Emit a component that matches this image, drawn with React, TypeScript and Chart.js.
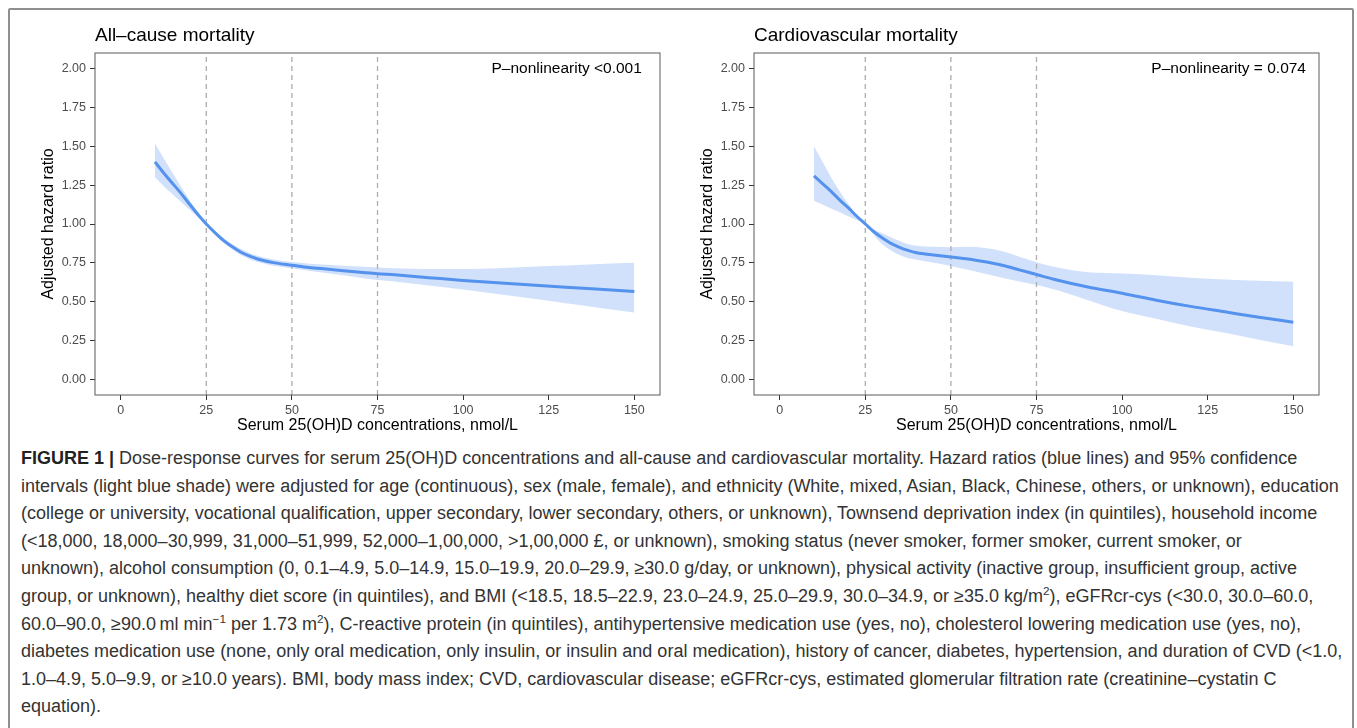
import React, { useEffect, useRef } from "react";
import { Chart, registerables } from "chart.js";

Chart.register(...registerables);

// ---------- data ----------
const xValues = [10, 12.5, 15, 17.5, 20, 22.5, 25, 27.5, 30, 32.5, 35, 37.5, 40, 45, 50, 55, 60, 65, 70, 75, 80, 90, 100, 110, 120, 130, 140, 150];

const allCauseHR = [1.40, 1.33, 1.265, 1.20, 1.13, 1.063, 1.00, 0.945, 0.895, 0.855, 0.82, 0.795, 0.775, 0.75, 0.735, 0.72, 0.71, 0.70, 0.69, 0.68, 0.673, 0.655, 0.637, 0.622, 0.607, 0.593, 0.58, 0.566];
const allCauseUpper = [1.52, 1.425, 1.335, 1.245, 1.16, 1.077, 1.00, 0.955, 0.91, 0.872, 0.84, 0.815, 0.795, 0.77, 0.755, 0.745, 0.738, 0.732, 0.726, 0.72, 0.715, 0.71, 0.71, 0.715, 0.725, 0.733, 0.742, 0.75];
const allCauseLower = [1.30, 1.245, 1.195, 1.145, 1.095, 1.045, 1.00, 0.935, 0.88, 0.838, 0.80, 0.775, 0.755, 0.73, 0.715, 0.70, 0.685, 0.67, 0.655, 0.64, 0.63, 0.605, 0.578, 0.55, 0.52, 0.49, 0.46, 0.43];

const cvdHR = [1.31, 1.26, 1.21, 1.155, 1.105, 1.05, 1.00, 0.95, 0.91, 0.875, 0.85, 0.83, 0.815, 0.80, 0.787, 0.775, 0.757, 0.735, 0.705, 0.675, 0.645, 0.595, 0.555, 0.51, 0.47, 0.435, 0.40, 0.368];
const cvdUpper = [1.50, 1.40, 1.30, 1.21, 1.13, 1.06, 1.00, 0.965, 0.94, 0.915, 0.89, 0.87, 0.86, 0.853, 0.85, 0.853, 0.845, 0.825, 0.79, 0.754, 0.725, 0.69, 0.682, 0.67, 0.655, 0.643, 0.635, 0.628];
const cvdLower = [1.15, 1.125, 1.10, 1.075, 1.05, 1.025, 1.00, 0.93, 0.87, 0.83, 0.80, 0.78, 0.77, 0.75, 0.73, 0.705, 0.68, 0.655, 0.63, 0.607, 0.58, 0.51, 0.44, 0.39, 0.34, 0.30, 0.255, 0.214];

const xTicks = [0, 25, 50, 75, 100, 125, 150];
const yTicks = [0, 0.25, 0.5, 0.75, 1.0, 1.25, 1.5, 1.75, 2.0];
const refLines = [25, 50, 75];

const X_MIN = -7.5;
const X_MAX = 157.5;
const Y_MIN = -0.1;
const Y_MAX = 2.1;

const FONT = '"Liberation Sans", Arial, Helvetica, sans-serif';
const LINE_COLOR = "#5592ee";
const BAND_COLOR = "rgba(196, 216, 250, 0.78)";
const DASH_COLOR = "#adadad";

type PanelProps = {
  left: number;
  title: string;
  pText: string;
  pX: number;
  hr: number[];
  upper: number[];
  lower: number[];
};

function Panel({ left, title, pText, pX, hr, upper, lower }: PanelProps) {
  const ref = useRef<HTMLCanvasElement>(null);

  useEffect(() => {
    const canvas = ref.current;
    if (!canvas) return;
    const pts = (ys: number[]) => xValues.map((x, i) => ({ x, y: ys[i] }));
    const vline = (v: number) => ({
      data: [
        { x: v, y: Y_MIN },
        { x: v, y: Y_MAX },
      ],
      borderColor: DASH_COLOR,
      borderWidth: 1.3,
      borderDash: [5, 4],
      pointRadius: 0,
      fill: false,
      tension: 0,
    });

    const overlay = {
      id: "overlay",
      afterDatasetsDraw(chart: any) {
        const { ctx, chartArea } = chart;
        ctx.save();
        ctx.strokeStyle = "#5a5a5a";
        ctx.lineWidth = 1;
        ctx.strokeRect(chartArea.left, chartArea.top, chartArea.right - chartArea.left, chartArea.bottom - chartArea.top);
        ctx.restore();
      },
      afterDraw(chart: any) {
        const { ctx, chartArea, scales } = chart;
        ctx.save();
        ctx.fillStyle = "#000";
        ctx.font = `19px ${FONT}`;
        ctx.textAlign = "left";
        ctx.textBaseline = "alphabetic";
        ctx.fillText(title, chartArea.left, 41);
        ctx.font = `15.5px ${FONT}`;
        ctx.textAlign = "right";
        ctx.textBaseline = "middle";
        ctx.fillText(pText, scales.x.getPixelForValue(pX), scales.y.getPixelForValue(2.0));
        ctx.restore();
      },
    };

    const chart = new Chart(canvas, {
      type: "line",
      data: {
        datasets: [
          {
            data: pts(hr),
            borderColor: LINE_COLOR,
            borderWidth: 3,
            pointRadius: 0,
            fill: false,
            cubicInterpolationMode: "monotone",
          } as any,
          ...refLines.map(vline),
          {
            data: pts(upper),
            borderColor: "transparent",
            borderWidth: 0,
            pointRadius: 0,
            fill: false,
            cubicInterpolationMode: "monotone",
          },
          {
            data: pts(lower),
            borderColor: "transparent",
            borderWidth: 0,
            pointRadius: 0,
            fill: "-1",
            backgroundColor: BAND_COLOR,
            cubicInterpolationMode: "monotone",
          },
        ],
      },
      options: {
        animation: false,
        responsive: false,
        devicePixelRatio: 1,
        events: [],
        layout: { padding: { left: 0, right: 20, top: 53, bottom: 0 } },
        plugins: {
          legend: { display: false },
          tooltip: { enabled: false },
          filler: { propagate: false },
        },
        scales: {
          x: {
            type: "linear",
            min: X_MIN,
            max: X_MAX,
            afterBuildTicks: (s: any) => {
              s.ticks = xTicks.map((v) => ({ value: v }));
            },
            afterFit: (s: any) => {
              s.height = 45;
            },
            ticks: {
              color: "#4d4d4d",
              font: { family: FONT, size: 12.5 },
              padding: 3,
              maxRotation: 0,
              autoSkip: false,
              callback: (v: any) => String(v),
            },
            grid: {
              drawOnChartArea: false,
              drawTicks: true,
              tickLength: 5,
              tickColor: "#333",
              tickWidth: 1,
            },
            border: { display: false },
            title: {
              display: true,
              text: "Serum 25(OH)D concentrations, nmol/L",
              color: "#000",
              font: { family: FONT, size: 16 },
              padding: { top: 0, bottom: 4.4 },
            },
          },
          y: {
            type: "linear",
            min: Y_MIN,
            max: Y_MAX,
            afterBuildTicks: (s: any) => {
              s.ticks = yTicks.map((v) => ({ value: v }));
            },
            afterFit: (s: any) => {
              s.width = 95;
            },
            ticks: {
              color: "#4d4d4d",
              font: { family: FONT, size: 12.5 },
              padding: 4,
              autoSkip: false,
              callback: (v: any) => Number(v).toFixed(2),
            },
            grid: {
              drawOnChartArea: false,
              drawTicks: true,
              tickLength: 5,
              tickColor: "#333",
              tickWidth: 1,
            },
            border: { display: false },
            title: {
              display: true,
              text: "Adjusted hazard ratio",
              color: "#000",
              font: { family: FONT, size: 16 },
              padding: { top: 39.4, bottom: 0 },
            },
          },
        },
      },
      plugins: [overlay],
    } as any);

    return () => chart.destroy();
  }, [title, pText, pX, hr, upper, lower]);

  return (
    <canvas
      ref={ref}
      width={680}
      height={440}
      style={{ position: "absolute", left, top: 0, width: 680, height: 440 }}
    />
  );
}

const supStyle: React.CSSProperties = { fontSize: "0.65em", lineHeight: 0 };

const captionLines: React.ReactNode[] = [
  <>
    <b style={{ color: "#222" }}>FIGURE 1 |</b> Dose-response curves for serum 25(OH)D concentrations and all-cause and cardiovascular mortality. Hazard ratios (blue lines) and 95% confidence
  </>,
  <>intervals (light blue shade) were adjusted for age (continuous), sex (male, female), and ethnicity (White, mixed, Asian, Black, Chinese, others, or unknown), education</>,
  <>(college or university, vocational qualification, upper secondary, lower secondary, others, or unknown), Townsend deprivation index (in quintiles), household income</>,
  <>(&lt;18,000, 18,000–30,999, 31,000–51,999, 52,000–1,00,000, &gt;1,00,000 £, or unknown), smoking status (never smoker, former smoker, current smoker, or</>,
  <>unknown), alcohol consumption (0, 0.1–4.9, 5.0–14.9, 15.0–19.9, 20.0–29.9, ≥30.0 g/day, or unknown), physical activity (inactive group, insufficient group, active</>,
  <>
    group, or unknown), healthy diet score (in quintiles), and BMI (&lt;18.5, 18.5–22.9, 23.0–24.9, 25.0–29.9, 30.0–34.9, or ≥35.0 kg/m<sup style={supStyle}>2</sup>), eGFRcr-cys (&lt;30.0, 30.0–60.0,
  </>,
  <>
    60.0–90.0, ≥90.0{"\u2009"}ml min<sup style={supStyle}>−1</sup> per 1.73 m<sup style={supStyle}>2</sup>), C-reactive protein (in quintiles), antihypertensive medication use (yes, no), cholesterol lowering medication use (yes, no),
  </>,
  <>diabetes medication use (none, only oral medication, only insulin, or insulin and oral medication), history of cancer, diabetes, hypertension, and duration of CVD (&lt;1.0,</>,
  <>1.0–4.9, 5.0–9.9, or ≥10.0 years). BMI, body mass index; CVD, cardiovascular disease; eGFRcr-cys, estimated glomerular filtration rate (creatinine–cystatin C</>,
  <>equation).</>,
];

export default function App() {
  return (
    <div
      style={{
        position: "fixed",
        left: 0,
        top: 0,
        width: 1357,
        height: 728,
        background: "#fff",
        overflow: "hidden",
        fontFamily: FONT,
      }}
    >
      <div
        style={{
          position: "absolute",
          left: 8,
          top: 8,
          width: 1342,
          height: 800,
          border: "2px solid #8f8f8f",
          borderRadius: 2,
        }}
      />
      <Panel left={0} title="All–cause mortality" pText="P–nonlinearity <0.001" pX={152.2} hr={allCauseHR} upper={allCauseUpper} lower={allCauseLower} />
      <Panel left={659} title="Cardiovascular mortality" pText="P–nonlinearity = 0.074" pX={153.7} hr={cvdHR} upper={cvdUpper} lower={cvdLower} />
      <div
        style={{
          position: "absolute",
          left: 21,
          top: 445,
          fontSize: 18,
          lineHeight: "27.6px",
          color: "#333",
          whiteSpace: "nowrap",
        }}
      >
        {captionLines.map((l, i) => (
          <div key={i}>{l}</div>
        ))}
      </div>
    </div>
  );
}
